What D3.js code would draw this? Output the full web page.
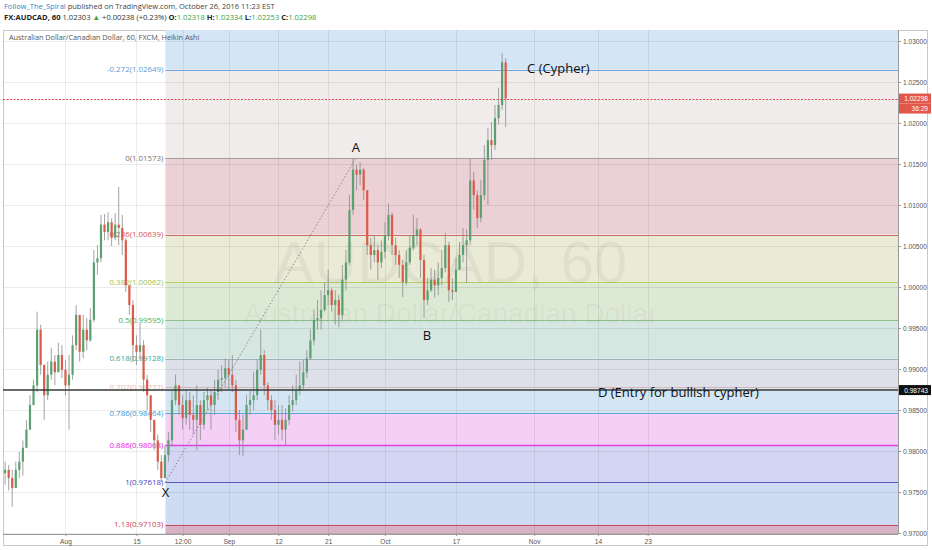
<!DOCTYPE html>
<html>
<head>
<meta charset="utf-8">
<script src="https://cdn.jsdelivr.net/npm/d3@7"></script>
<style>
  body { margin: 0; background: #fff; }
  svg { display: block; font-family: "Open Sans", sans-serif; }
</style>
</head>
<body>
<svg id="chart" width="932" height="550"></svg>
<script>
// ---- data (12h Heikin Ashi bars) ----
var firstBar = "2016-07-19 12:00";   // two bars per trading day
var closes = [
  0.9777,0.9767,0.9755,0.9777,0.9787,0.9804,0.9826,0.9856,0.9880,0.9948,
  0.9905,0.9868,0.9893,0.9909,0.9896,0.9917,0.9899,0.9880,0.9893,0.9929,
  0.9966,0.9921,0.9948,0.9935,0.9960,1.0030,1.0035,1.0076,1.0067,1.0079,
  1.0060,1.0076,1.0072,1.0057,1.0002,0.9978,0.9929,0.9921,0.9929,0.9887,
  0.9868,0.9838,0.9813,0.9787,0.9767,0.9795,0.9813,0.9862,0.9880,0.9856,
  0.9840,0.9862,0.9844,0.9838,0.9856,0.9832,0.9862,0.9868,0.9856,0.9872,
  0.9887,0.9889,0.9901,0.9893,0.9880,0.9838,0.9813,0.9826,0.9856,0.9862,
  0.9868,0.9899,0.9917,0.9880,0.9862,0.9850,0.9832,0.9838,0.9826,0.9838,
  0.9856,0.9862,0.9874,0.9880,0.9896,0.9913,0.9935,0.9960,0.9962,0.9972,
  0.9990,0.9996,0.9978,0.9984,0.9966,1.0009,1.0030,1.0094,1.0143,1.0137,
  1.0143,1.0118,1.0051,1.0039,1.0045,1.0030,1.0043,1.0063,1.0088,1.0051,
  1.0039,1.0027,1.0006,1.0030,1.0048,1.0063,1.0070,1.0033,0.9984,0.9996,
  1.0009,1.0002,1.0011,1.0023,1.0051,0.9996,0.9994,1.0021,1.0039,1.0051,
  1.0057,1.0130,1.0112,1.0084,1.0112,1.0155,1.0179,1.0173,1.0206,1.0222,
  1.0274,1.0230
];
var highs = [
  0.9787,0.9783,0.9777,0.9787,0.9799,0.9813,0.9838,0.9868,0.9887,0.9970,
  0.9954,0.9899,0.9909,0.9926,0.9917,0.9932,0.9929,0.9911,0.9917,0.9941,
  0.9978,0.9960,0.9966,0.9962,0.9974,1.0045,1.0051,1.0088,1.0089,1.0091,
  1.0084,1.0090,1.0122,1.0088,1.0060,1.0002,0.9984,0.9941,0.9956,0.9935,
  0.9893,0.9868,0.9838,0.9820,0.9795,0.9807,0.9823,0.9874,0.9893,0.9877,
  0.9868,0.9874,0.9872,0.9868,0.9880,0.9862,0.9872,0.9877,0.9874,0.9887,
  0.9899,0.9905,0.9913,0.9911,0.9917,0.9887,0.9850,0.9844,0.9868,0.9874,
  0.9896,0.9911,0.9948,0.9923,0.9884,0.9868,0.9862,0.9856,0.9856,0.9852,
  0.9868,0.9880,0.9893,0.9909,0.9911,0.9923,0.9948,0.9972,0.9984,0.9996,
  1.0006,1.0021,0.9999,0.9996,0.9990,1.0027,1.0045,1.0112,1.0157,1.0149,
  1.0152,1.0145,1.0116,1.0060,1.0063,1.0051,1.0057,1.0079,1.0102,1.0091,
  1.0060,1.0045,1.0033,1.0045,1.0063,1.0088,1.0084,1.0072,1.0039,1.0011,
  1.0023,1.0021,1.0030,1.0045,1.0066,1.0055,1.0011,1.0035,1.0055,1.0072,
  1.0070,1.0157,1.0140,1.0118,1.0130,1.0173,1.0194,1.0201,1.0222,1.0243,
  1.0285,1.0279
];
var lows = [
  0.9759,0.9752,0.9732,0.9762,0.9767,0.9770,0.9813,0.9828,0.9862,0.9872,
  0.9893,0.9838,0.9862,0.9887,0.9880,0.9896,0.9889,0.9868,0.9826,0.9887,
  0.9923,0.9909,0.9913,0.9923,0.9933,0.9957,1.0015,1.0030,1.0057,1.0057,
  1.0050,1.0057,1.0051,1.0039,0.9994,0.9966,0.9909,0.9905,0.9911,0.9872,
  0.9850,0.9823,0.9801,0.9777,0.9762,0.9771,0.9787,0.9807,0.9856,0.9844,
  0.9826,0.9832,0.9826,0.9820,0.9801,0.9813,0.9826,0.9850,0.9826,0.9844,
  0.9862,0.9872,0.9877,0.9874,0.9872,0.9823,0.9795,0.9794,0.9832,0.9844,
  0.9850,0.9862,0.9893,0.9868,0.9850,0.9838,0.9813,0.9820,0.9813,0.9807,
  0.9832,0.9848,0.9856,0.9868,0.9874,0.9889,0.9911,0.9929,0.9948,0.9948,
  0.9970,0.9978,0.9970,0.9954,0.9951,0.9960,0.9996,1.0027,1.0088,1.0118,
  1.0124,1.0106,1.0039,1.0021,1.0030,1.0009,1.0023,1.0035,1.0057,1.0039,
  1.0027,1.0011,0.9988,1.0002,1.0027,1.0045,1.0051,1.0011,0.9962,0.9978,
  0.9994,0.9987,0.9990,1.0002,1.0018,0.9982,0.9984,1.0002,1.0021,1.0030,
  1.0005,1.0051,1.0094,1.0072,1.0079,1.0106,1.0100,1.0155,1.0167,1.0198,
  1.0216,1.0195
];

var fibRatios = ["-0.272", "0", "0.236", "0.382", "0.5", "0.618", "0.707", "0.786", "0.886", "1", "1.13"];
var fibPrices = [1.02649, 1.01573, 1.00639, 1.00062, 0.99595, 0.99128, 0.98777, 0.98464, 0.98068, 0.97618, 0.97103];
var fibStart = "2016-08-19 02:00";

var priceTicks = [0.970, 0.975, 0.980, 0.985, 0.990, 0.995, 1.000, 1.005, 1.010, 1.015, 1.020, 1.025, 1.030];
var timeTickLabels = ["Aug", "15", "12:00", "Sep", "12", "21", "Oct", "17", "Nov", "14", "23"];
var timeTickDates = ["2016-08-01 00:00", "2016-08-15 00:00", "2016-08-23 12:00", "2016-09-01 00:00", "2016-09-12 00:00",
  "2016-09-21 00:00", "2016-10-03 00:00", "2016-10-17 00:00", "2016-11-01 00:00", "2016-11-14 00:00", "2016-11-23 00:00"];

var pointNames = ["X", "A", "B", "C (Cypher)", "D (Entry for bullish cypher)"];
var pointDates = ["2016-08-19 02:00", "2016-09-26 22:00", "2016-10-10 22:00", "2016-10-25 12:00", "2016-11-14 00:00"];
var pointPrices = [0.97618, 1.01573, 0.9962, 1.0285, 0.98743];

var lastPrice = 1.02298;
var entryPrice = 0.98743;
var countdown = "36:29";

// ---- layout ----
var svg = d3.select("#chart");
var L = 3, R = 898, T = 30, B = 534;
var parse = d3.timeParse("%Y-%m-%d %H:%M");

// trading days (weekends skipped) counted from Aug 1 2016, fractional
function tradingDay(s) {
  var date = parse(s), base = new Date(2016, 7, 1);
  var d = d3.timeDay.floor(date), n = 0, t;
  if (d >= base) {
    for (t = new Date(base); t < d; t = d3.timeDay.offset(t, 1)) if (t.getDay() % 6) n++;
  } else {
    for (t = new Date(d); t < base; t = d3.timeDay.offset(t, 1)) if (t.getDay() % 6) n--;
  }
  return n + (date - d) / 864e5;
}

var x = d3.scaleLinear().domain([-8.8, 117.26]).range([L, R]);
var y = d3.scaleLinear().domain([0.97, 1.03]).range([533.0, 41.0]);

var bar0 = tradingDay(firstBar);
var bars = closes.map(function (c, i) {
  var o = i === 0 ? lows[0] + (highs[0] - lows[0]) / 2 : closes[i - 1];
  return { t: bar0 + i * 0.5, o: o, h: highs[i], l: lows[i], c: c };
});

// ---- header ----
var head = svg.append("text").attr("x", 4).attr("y", 9).style("font-size", "7.5px").attr("fill", "#444");
head.append("tspan").attr("fill", "#2f87c8").text("Follow_The_Spiral");
head.append("tspan").text(" published on TradingView.com, October 26, 2016 11:23 EST");

var quote = svg.append("text").attr("x", 4).attr("y", 20).style("font-size", "7.6px").attr("fill", "#333");
var green = "#3aa63a";
[["FX:AUDCAD, 60 ", "#222", 700], ["1.02303 ", "#333", 400], ["\u25B2", green, 400], [" +0.00238 (+0.23%) ", "#333", 400],
 ["O:", "#222", 700], ["1.02318 ", green, 400], ["H:", "#222", 700], ["1.02334 ", green, 400],
 ["L:", "#222", 700], ["1.02253 ", green, 400], ["C:", "#222", 700], ["1.02298", green, 400]]
  .forEach(function (p) {
    quote.append("tspan").attr("fill", p[1]).style("font-weight", p[2]).text(p[0]);
  });

// ---- frame ----
svg.append("rect").attr("x", 3.5).attr("y", 30.5).attr("width", 924).attr("height", 515)
  .attr("fill", "#fff").attr("stroke", "#c8c8c8");

svg.append("defs").append("clipPath").attr("id", "plotclip")
  .append("rect").attr("x", L).attr("y", T).attr("width", R - L).attr("height", B - T);
var plot = svg.append("g").attr("clip-path", "url(#plotclip)");

// ---- fib zones ----
var zoneFills = ["#d4e5f6", "#f1ecec", "#ebd0d5", "#eaebd6", "#dce9d4", "#d6e7e1", "#dde0e8",
  "#d4e6f3", "#f4cff6", "#d3d6f3", "#cedcf3", "#d6b3c5"];
var levelColors = ["#6fa8dc", "#a0a0a0", "#c86a6a", "#b8d060", "#8cc08c", "#98b4b4", "#d8b4b4",
  "#5aa6dc", "#e040e0", "#5a5ab8", "#c05070"];
var labelColors = ["#5b9bd5", "#777777", "#d9534f", "#a6c33a", "#4caf50", "#2aaa96", "#e2bcbc",
  "#3a9ad4", "#e622e6", "#4545c0", "#d23c55"];
var zx = x(tradingDay(fibStart));
var edges = [y.invert(T)].concat(fibPrices).concat([y.invert(B)]);
plot.selectAll("rect.zone").data(zoneFills).enter().append("rect").attr("class", "zone")
  .attr("x", zx).attr("width", R - zx)
  .attr("y", function (d, i) { return y(edges[i]); })
  .attr("height", function (d, i) { return y(edges[i + 1]) - y(edges[i]); })
  .attr("fill", function (d) { return d; });

// ---- grid ----
plot.selectAll("line.hg").data(priceTicks).enter().append("line")
  .attr("x1", L).attr("x2", R)
  .attr("y1", function (d) { return Math.round(y(d)) + 0.5; })
  .attr("y2", function (d) { return Math.round(y(d)) + 0.5; })
  .attr("stroke", "#000").attr("stroke-opacity", 0.08);
plot.selectAll("line.vg").data(timeTickDates).enter().append("line")
  .attr("y1", T).attr("y2", B)
  .attr("x1", function (d) { return Math.round(x(tradingDay(d))) + 0.5; })
  .attr("x2", function (d) { return Math.round(x(tradingDay(d))) + 0.5; })
  .attr("stroke", "#000").attr("stroke-opacity", 0.07);

// ---- fib level lines ----
plot.selectAll("line.lvl").data(fibPrices).enter().append("line")
  .attr("x1", zx).attr("x2", R)
  .attr("y1", function (d) { return Math.round(y(d)) + 0.5; })
  .attr("y2", function (d) { return Math.round(y(d)) + 0.5; })
  .attr("stroke", function (d, i) { return levelColors[i]; })
  .attr("stroke-width", function (d, i) { return i === 8 ? 1.5 : 1; });

// ---- watermark ----
plot.append("text").attr("x", (L + R) / 2).attr("y", 283).attr("text-anchor", "middle")
  .style("font-family", "'Liberation Sans', Arial, sans-serif").style("font-size", "60px")
  .attr("fill", "#000").attr("fill-opacity", 0.045).text("AUDCAD, 60");
plot.append("text").attr("x", (L + R) / 2).attr("y", 323).attr("text-anchor", "middle")
  .style("font-family", "'Liberation Sans', Arial, sans-serif").style("font-size", "28px")
  .attr("fill", "#000").attr("fill-opacity", 0.045).text("Australian Dollar/Canadian Dollar");

// ---- fib labels (left of the zone, under the bars) ----
plot.selectAll("text.fib").data(fibPrices).enter().append("text")
  .attr("x", zx - 2).attr("y", function (d) { return y(d) + 2.7; })
  .attr("text-anchor", "end").style("font-size", "7.9px")
  .attr("fill", function (d, i) { return labelColors[i]; })
  .text(function (d, i) { return fibRatios[i] + "(" + d.toFixed(5) + ")"; });

// ---- candles ----
var up = "#5aa070", down = "#dc5a48";
var candle = plot.selectAll("g.bar").data(bars).enter().append("g");
candle.append("line")
  .attr("x1", function (d) { return x(d.t); }).attr("x2", function (d) { return x(d.t); })
  .attr("y1", function (d) { return y(Math.max(d.h, d.o, d.c)); })
  .attr("y2", function (d) { return y(Math.min(d.l, d.o, d.c)); })
  .attr("stroke", "#8a8a8c").attr("stroke-width", 0.8);
candle.append("rect")
  .attr("x", function (d) { return x(d.t) - 1.1; }).attr("width", 2.2)
  .attr("y", function (d) { return y(Math.max(d.o, d.c)); })
  .attr("height", function (d) { return Math.max(0.8, Math.abs(y(d.o) - y(d.c))); })
  .attr("fill", function (d) { return d.c >= d.o ? up : down; });

// ---- drawings ----
var px = pointDates.map(function (d) { return x(tradingDay(d)); });
plot.append("line").attr("x1", px[0]).attr("y1", y(pointPrices[0])).attr("x2", px[1]).attr("y2", y(pointPrices[1]))
  .attr("stroke", "#888").attr("stroke-dasharray", "1.5,2");
plot.append("line").attr("x1", L).attr("x2", R)
  .attr("y1", Math.round(y(lastPrice)) + 0.5).attr("y2", Math.round(y(lastPrice)) + 0.5)
  .attr("stroke", "#e34848").attr("stroke-dasharray", "2,1.5");
plot.append("line").attr("x1", L).attr("x2", R)
  .attr("y1", y(entryPrice)).attr("y2", y(entryPrice))
  .attr("stroke", "#3a3a3a").attr("stroke-width", 1.4);

var offsets = [[0, 15, "middle"], [0, -6, "middle"], [0, 22, "middle"], [25, 20, "start"], [0, 6.5, "start"]];
plot.selectAll("text.pt").data(pointNames).enter().append("text")
  .attr("x", function (d, i) { return px[i] + offsets[i][0]; })
  .attr("y", function (d, i) { return y(pointPrices[i]) + offsets[i][1]; })
  .attr("text-anchor", function (d, i) { return offsets[i][2]; })
  .style("font-size", "13px").attr("fill", "#111").text(function (d) { return d; });

// ---- axes ----
var yAxis = d3.axisRight(y).tickValues(priceTicks).tickSize(3).tickPadding(2)
  .tickFormat(d3.format(".5f"));
var ya = svg.append("g").attr("transform", "translate(" + R + ",0)").call(yAxis);
ya.select(".domain").attr("stroke", "#9a9a9a").attr("d", "M0.5," + T + "V" + B);
ya.selectAll(".tick line").attr("stroke", "#9a9a9a");
ya.selectAll("text").style("font-size", "6.6px").attr("fill", "#555").style("font-family", "'Liberation Sans', Arial, sans-serif");

var xa = svg.append("g").attr("transform", "translate(0," + B + ")")
  .call(d3.axisBottom(x).tickValues(timeTickDates.map(tradingDay)).tickSize(2).tickPadding(3)
    .tickFormat(function (d, i) { return timeTickLabels[i]; }));
xa.select(".domain").attr("stroke", "#9a9a9a").attr("d", "M" + L + ",0.5H" + R);
xa.selectAll(".tick line").attr("stroke", "#9a9a9a");
xa.selectAll("text").style("font-size", "6.6px").attr("fill", "#555").style("font-family", "'Liberation Sans', Arial, sans-serif");

// price tags on the axis
function tag(v, txt, bg, dy) {
  var g = svg.append("g").attr("transform", "translate(" + (R + 1) + "," + (y(v) + dy) + ")");
  g.append("rect").attr("x", 0).attr("y", -5).attr("width", 32).attr("height", 10).attr("fill", bg);
  g.append("text").attr("x", 29).attr("y", 2.5).attr("text-anchor", "end").attr("fill", "#fff")
    .style("font-size", "6.6px").style("font-family", "'Liberation Sans', Arial, sans-serif").text(txt);
}
tag(lastPrice, lastPrice.toFixed(5), "#e2574c", 0);
tag(lastPrice, countdown, "#e2574c", 10);
tag(entryPrice, entryPrice.toFixed(5), "#111", 0);

// chart title
svg.append("text").attr("x", 9).attr("y", 40).style("font-size", "7.3px").attr("fill", "#555")
  .text("Australian Dollar/Canadian Dollar, 60, FXCM, Heikin Ashi");
</script>
</body>
</html>
